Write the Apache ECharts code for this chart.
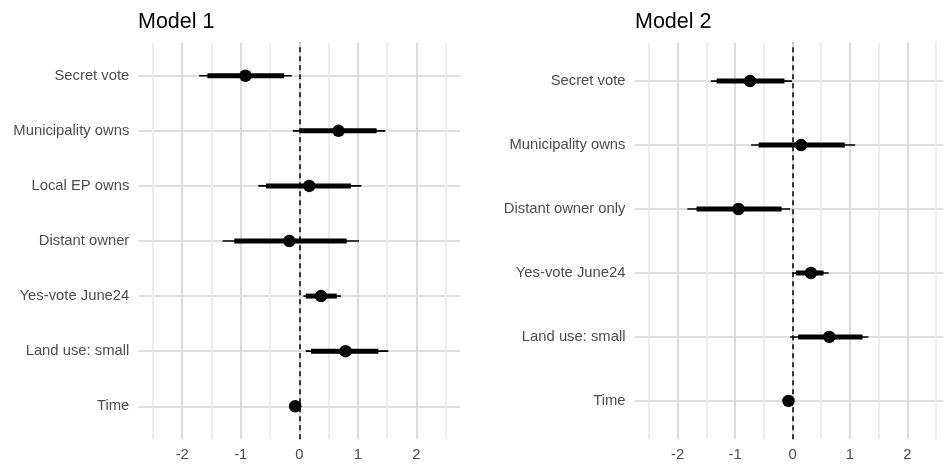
<!DOCTYPE html>
<html>
<head>
<meta charset="utf-8">
<script src="https://cdn.jsdelivr.net/npm/echarts@6/dist/echarts.min.js"></script>
<style>
  html, body { margin: 0; padding: 0; background: #fff; }
  #chart { width: 943px; height: 469px; }
</style>
</head>
<body>
<div id="chart"></div>
<script>
// Model 1 (rows listed top to bottom)
const labels1 = ['Secret vote', 'Municipality owns', 'Local EP owns', 'Distant owner', 'Yes-vote June24', 'Land use: small', 'Time'];
const est1 = [-0.92, 0.67, 0.17, -0.17, 0.37, 0.79, -0.07];
const thickLo1 = [-1.57, 0.01, -0.57, -1.11, 0.11, 0.20, -0.09];
const thickHi1 = [-0.26, 1.32, 0.88, 0.81, 0.64, 1.35, -0.05];
const thinLo1 = [-1.71, -0.11, -0.70, -1.31, 0.07, 0.11, -0.10];
const thinHi1 = [-0.13, 1.47, 1.06, 1.02, 0.71, 1.52, -0.04];

// Model 2
const labels2 = ['Secret vote', 'Municipality owns', 'Distant owner only', 'Yes-vote June24', 'Land use: small', 'Time'];
const est2 = [-0.74, 0.15, -0.94, 0.32, 0.64, -0.07];
const thickLo2 = [-1.32, -0.59, -1.67, 0.06, 0.10, -0.09];
const thickHi2 = [-0.14, 0.91, -0.19, 0.54, 1.22, -0.05];
const thinLo2 = [-1.42, -0.72, -1.83, 0.00, -0.04, -0.10];
const thinHi2 = [-0.01, 1.09, -0.04, 0.63, 1.32, -0.04];

// x axis ticks
const xLabels = [-2, -1, 0, 1, 2];
const xGrid = [-2.5, -2, -1.5, -1, -0.5, 0, 0.5, 1, 1.5, 2, 2.5];

const FONT = "'Liberation Sans', Arial, sans-serif";
const TEXT = '#4d4d4d';

const chart = echarts.init(document.getElementById('chart'), null, { renderer: 'canvas' });

function rangeRenderer(width) {
  return function (params, api) {
    const a = api.coord([api.value(0), api.value(2)]);
    const b = api.coord([api.value(1), api.value(2)]);
    return {
      type: 'line',
      shape: { x1: a[0], y1: a[1], x2: b[0], y2: b[1] },
      style: { stroke: '#000', lineWidth: width, lineCap: 'butt' },
    };
  };
}

function panel(idx, labels, est, thickLo, thickHi, thinLo, thinHi) {
  const n = labels.length;
  const pos = labels.map((_, i) => n - 1 - i);
  const yTicks = pos.slice().reverse();
  const xAxis = {
    type: 'value', gridIndex: idx, min: -2.75, max: 2.75,
    axisLine: { show: false },
    axisTick: { show: false, customValues: xGrid },
    axisLabel: { customValues: xLabels, color: TEXT, fontFamily: FONT, fontSize: 14.8, margin: 8 },
    splitLine: { show: true, lineStyle: { color: ['#ebebeb', '#d8d8d8'], width: 1.8 } },
  };
  const yAxis = {
    type: 'value', gridIndex: idx, min: -0.6, max: n - 0.4,
    axisLine: { show: false },
    axisTick: { show: false, customValues: yTicks },
    axisLabel: {
      customValues: yTicks, color: TEXT, fontFamily: FONT, fontSize: 14.8, margin: 9,
      formatter: v => labels[n - 1 - Math.round(v)],
    },
    splitLine: { show: true, lineStyle: { color: '#dedede', width: 1.8 } },
  };
  const series = [
    {
      type: 'custom', xAxisIndex: idx, yAxisIndex: idx,
      renderItem: rangeRenderer(1.6),
      encode: { x: [0, 1], y: 2 },
      data: pos.map((p, i) => [thinLo[i], thinHi[i], p]),
      markLine: {
        silent: true, symbol: 'none', label: { show: false },
        lineStyle: { color: '#000', width: 1.5, type: [5, 4] },
        data: [{ xAxis: 0 }],
      },
      z: 2,
    },
    {
      type: 'custom', xAxisIndex: idx, yAxisIndex: idx,
      renderItem: rangeRenderer(5),
      encode: { x: [0, 1], y: 2 },
      data: pos.map((p, i) => [thickLo[i], thickHi[i], p]),
      z: 3,
    },
    {
      type: 'scatter', xAxisIndex: idx, yAxisIndex: idx,
      symbol: 'circle', symbolSize: 12.5,
      itemStyle: { color: '#000', opacity: 1 },
      data: pos.map((p, i) => [est[i], p]),
      z: 4,
    },
  ];
  return { xAxis, yAxis, series };
}

const p1 = panel(0, labels1, est1, thickLo1, thickHi1, thinLo1, thinHi1);
const p2 = panel(1, labels2, est2, thickLo2, thickHi2, thinLo2, thinHi2);

chart.setOption({
  animation: false,
  backgroundColor: '#fff',
  title: [
    { text: 'Model 1', left: 138, top: 11, padding: 0, textStyle: { color: '#000', fontFamily: FONT, fontSize: 21.5, fontWeight: 'normal' } },
    { text: 'Model 2', left: 635, top: 11, padding: 0, textStyle: { color: '#000', fontFamily: FONT, fontSize: 21.5, fontWeight: 'normal' } },
  ],
  grid: [
    { left: 138.3, top: 42.7, width: 322, height: 396.6, containLabel: false, outerBoundsMode: 'none' },
    { left: 634.5, top: 42.7, width: 316, height: 396.6, containLabel: false, outerBoundsMode: 'none' },
  ],
  xAxis: [p1.xAxis, p2.xAxis],
  yAxis: [p1.yAxis, p2.yAxis],
  series: [...p1.series, ...p2.series],
});
</script>
</body>
</html>
